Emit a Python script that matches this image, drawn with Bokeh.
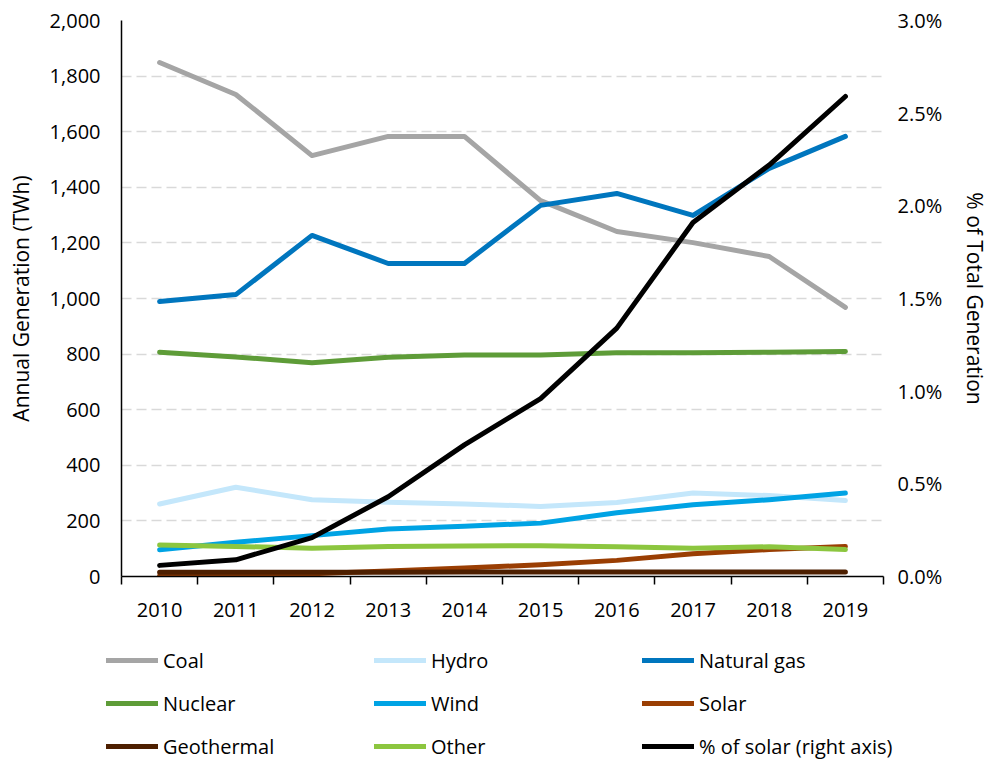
from bokeh.plotting import figure
from bokeh.layouts import column
from bokeh.models import (Range1d, LinearAxis, FixedTicker, NumeralTickFormatter,
                          PrintfTickFormatter, Legend, LegendItem)
from bokeh.embed import file_html
from bokeh.resources import INLINE

years = [2010, 2011, 2012, 2013, 2014, 2015, 2016, 2017, 2018, 2019]
coal = [1849, 1734, 1514, 1583, 1583, 1352, 1241, 1201, 1151, 968]
hydro = [261, 321, 276, 267, 261, 252, 266, 300, 291, 273]
natural_gas = [989, 1014, 1227, 1126, 1126, 1335, 1378, 1299, 1468, 1583]
nuclear = [807, 790, 769, 789, 797, 797, 805, 805, 807, 809]
wind = [96, 123, 147, 171, 181, 192, 229, 258, 276, 300]
solar = [3, 5, 10, 20, 31, 42, 58, 82, 97, 108]
geothermal = [15, 15, 15, 15, 16, 16, 16, 16, 16, 16]
other = [113, 108, 102, 108, 110, 111, 107, 102, 107, 97]
pct_solar = [0.06, 0.09, 0.21, 0.43, 0.71, 0.96, 1.34, 1.91, 2.22, 2.59]

left_ticks = [0, 200, 400, 600, 800, 1000, 1200, 1400, 1600, 1800, 2000]
right_ticks = [0.0, 0.5, 1.0, 1.5, 2.0, 2.5, 3.0]

FONT = "Open Sans"

p = figure(width=994, height=628, output_backend="svg", toolbar_location=None,
           x_range=Range1d(2009.5, 2019.5), y_range=Range1d(0, 2000),
           min_border_left=121, min_border_right=111, min_border_top=20,
           min_border_bottom=52)
p.frame_align = False
p.outline_line_color = None
p.background_fill_color = "white"
p.extra_y_ranges = {"pct": Range1d(0, 3)}

# grid
p.xgrid.grid_line_color = None
p.ygrid.ticker = FixedTicker(ticks=left_ticks[1:])
p.ygrid.grid_line_color = "#D9D9D9"
p.ygrid.grid_line_width = 1.5
p.ygrid.grid_line_dash = "10 5"

# x axis
xa = p.xaxis[0]
xa.ticker = FixedTicker(ticks=years, minor_ticks=[y - 0.5 for y in years] + [2019.5])
xa.major_tick_out = 0
xa.major_tick_in = 0
xa.minor_tick_out = 8
xa.minor_tick_in = 0
xa.minor_tick_line_color = "black"
xa.minor_tick_line_width = 1.5
xa.axis_line_color = "black"
xa.axis_line_width = 1.5
xa.major_label_standoff = 18
xa.major_label_text_font = FONT
xa.major_label_text_font_size = "20px"
xa.major_label_text_color = "black"

# left axis
ya = p.yaxis[0]
ya.ticker = FixedTicker(ticks=left_ticks)
ya.formatter = NumeralTickFormatter(format="0,0")
ya.major_tick_out = 0
ya.major_tick_in = 0
ya.minor_tick_line_color = None
ya.axis_line_color = "black"
ya.axis_line_width = 1.5
ya.major_label_standoff = 21
ya.major_label_text_font = FONT
ya.major_label_text_font_size = "20px"
ya.major_label_text_color = "black"
ya.axis_label = "Annual Generation (TWh)"
ya.axis_label_text_font = FONT
ya.axis_label_text_font_size = "21px"
ya.axis_label_text_font_style = "normal"
ya.axis_label_text_color = "black"
ya.axis_label_standoff = 12

# right axis
ra = LinearAxis(y_range_name="pct", ticker=FixedTicker(ticks=right_ticks),
                formatter=PrintfTickFormatter(format="%.1f%%"))
ra.axis_line_color = None
ra.major_tick_line_color = None
ra.minor_tick_line_color = None
ra.major_tick_out = 0
ra.major_tick_in = 0
ra.major_label_standoff = 14
ra.major_label_text_font = FONT
ra.major_label_text_font_size = "20px"
ra.major_label_text_color = "black"
ra.axis_label = "% of Total Generation"
ra.axis_label_text_font = FONT
ra.axis_label_text_font_size = "21px"
ra.axis_label_text_font_style = "normal"
ra.axis_label_text_color = "black"
ra.axis_label_standoff = 16
p.add_layout(ra, "right")

series = [
    ("Coal", coal, "#A5A5A5"),
    ("Hydro", hydro, "#C4E7FB"),
    ("Natural gas", natural_gas, "#0076BE"),
    ("Nuclear", nuclear, "#5E9C38"),
    ("Wind", wind, "#00A3E4"),
    ("Solar", solar, "#9A3E03"),
    ("Geothermal", geothermal, "#4D1F00"),
    ("Other", other, "#8CC63F"),
]
for name, vals, col in series:
    p.line(years, vals, line_color=col, line_width=5,
           line_cap="round", line_join="round")
p.line(years, pct_solar, line_color="black", line_width=5,
       line_cap="round", line_join="round", y_range_name="pct")

# legend figure (below the chart); its lines lie outside its ranges, only
# their legend swatches show
lg = figure(width=994, height=133, output_backend="svg", toolbar_location=None,
            x_axis_type=None, y_axis_type=None, min_border=0,
            x_range=Range1d(0, 1), y_range=Range1d(0, 1))
lg.frame_align = False
lg.outline_line_color = None
lg.grid.grid_line_color = None

legend_styles = series + [("% of solar (right axis)", pct_solar, "black")]
items = []
for name, vals, col in legend_styles:
    r = lg.line(years, vals, line_color=col, line_width=5, line_cap="round")
    items.append(LegendItem(label=name, renderers=[r]))

legend = Legend(items=items, location=(106, 1), orientation="horizontal", ncols=3,
                glyph_width=52, glyph_height=28, label_height=28, label_width=196,
                label_standoff=5, spacing=15, padding=0, margin=0,
                border_line_color=None, background_fill_alpha=0,
                label_text_font=FONT, label_text_font_size="20px",
                label_text_color="black")
lg.add_layout(legend, "center")

layout = column(p, lg, spacing=0)
open("out.html", "w").write(file_html(layout, INLINE))
